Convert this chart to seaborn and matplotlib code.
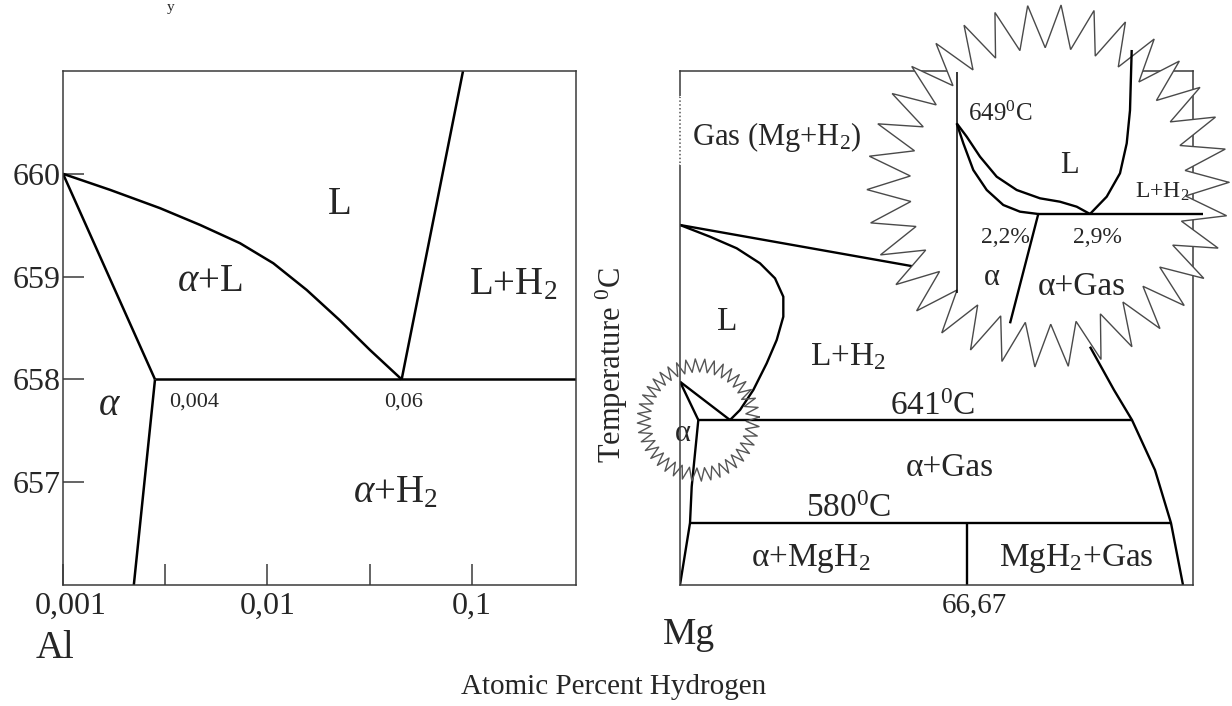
import numpy as np
import matplotlib
matplotlib.use("Agg")
import matplotlib.pyplot as plt
import matplotlib.transforms as mtransforms
import seaborn as sns

# ---------------- data: Al-H (left panel, log x in at.% H, T in degC) ----------------
al_liquidus_x = [0.001, 0.001698, 0.002979, 0.004676, 0.007336, 0.010676,
                 0.015548, 0.022491, 0.031712, 0.0453]
al_liquidus_y = [660.0, 659.844, 659.666, 659.503, 659.325, 659.130,
                 658.870, 658.578, 658.286, 658.0]
al_solidus_x = [0.001, 0.002818]
al_solidus_y = [660.0, 658.0]
al_solvus_x = [0.002818, 0.00222]
al_solvus_y = [658.0, 656.0]
al_eutectic_x = [0.002818, 0.3226]
al_eutectic_y = [658.0, 658.0]
al_gasline_x = [0.0453, 0.0904]
al_gasline_y = [658.0, 661.0]
al_yticks = [657, 658, 659, 660]
al_xticks = [0.001, 0.01, 0.1]
al_xticklabels = ["0,001", "0,01", "0,1"]
al_minor_xticks = [10 ** -2.5, 10 ** -1.5]

# ---------------- data: Mg-H (right panel, schematic units 0-100) ----------------
mg_gas_x = [0.0, 45.42]
mg_gas_y = [70.04, 62.0]
mg_liq_x = [0.0, 5.85, 11.05, 15.59, 18.52, 20.14, 20.14, 18.85, 16.90, 14.29, 11.70, 9.75]
mg_liq_y = [70.04, 67.76, 65.51, 62.59, 59.67, 56.09, 52.20, 47.67, 43.13, 37.94, 34.05, 32.10]
mg_eut1_x = [0.0, 9.75]
mg_eut1_y = [39.55, 32.10]
mg_eut2_x = [0.0, 3.57]
mg_eut2_y = [39.55, 32.10]
mg_solvus_x = [3.57, 2.28, 1.95, 0.0]
mg_solvus_y = [32.10, 19.12, 12.06, 0.0]
mg_641_x = [3.57, 88.11]
mg_641_y = [32.10, 32.10]
mg_right_x = [79.92, 84.60, 88.11, 92.59, 95.71, 98.05]
mg_right_y = [46.36, 37.94, 32.10, 22.37, 12.06, 0.0]
mg_580_x = [1.95, 95.71]
mg_580_y = [12.06, 12.06]
mg_hydride_x = [55.87, 55.87]
mg_hydride_y = [0.0, 12.06]

# inset (magnified Mg-rich corner)
in_axis_x = [53.94, 53.94]
in_axis_y = [99.8, 56.81]
in_sol_x = [53.94, 55.23, 57.17, 59.79, 63.02, 66.28, 69.84]
in_sol_y = [89.82, 85.93, 80.74, 76.85, 73.93, 72.63, 72.18]
in_liq_x = [53.94, 55.89, 58.48, 61.73, 65.63, 70.18, 74.07, 77.33, 79.92]
in_liq_y = [89.82, 87.22, 83.33, 79.44, 76.85, 75.23, 74.57, 73.60, 72.18]
in_eut_x = [69.84, 102.0]
in_eut_y = [72.18, 72.18]
in_right_x = [79.92, 83.18, 85.77, 87.08, 87.72, 88.05]
in_right_y = [72.18, 75.55, 80.10, 85.93, 92.35, 104.09]
in_solvus_x = [69.84, 64.33]
in_solvus_y = [72.18, 50.91]

# ---------------- labels ----------------
al_labels = ["L", r"$\alpha$+L", "L+H$_2$", r"$\alpha$", r"$\alpha$+H$_2$"]
al_small_labels = ["0,004", "0,06"]
mg_labels = ["L", "L+H$_2$", "641$^0$C", "α+Gas", "580$^0$C", "α+MgH$_2$", "MgH$_2$+Gas"]
inset_labels = ["L", "L+H$_2$", "α", "α+Gas"]
inset_small = ["2,2%", "2,9%"]

# ---------------- style ----------------
sns.set_theme(style="white")
plt.rcParams["font.family"] = ["Liberation Serif", "DejaVu Serif"]
plt.rcParams["mathtext.fontset"] = "custom"
plt.rcParams["mathtext.rm"] = "Liberation Serif"
plt.rcParams["mathtext.it"] = "Liberation Serif:italic"
plt.rcParams["mathtext.bf"] = "Liberation Serif:bold"

W, H = 1232, 706
fig = plt.figure(figsize=(W / 100, H / 100), dpi=100)
fig.patch.set_facecolor("white")

def px_axes(x0, y0, x1, y1):
    return fig.add_axes([x0 / W, 1 - y1 / H, (x1 - x0) / W, (y1 - y0) / H])

LW = 1.8
SPINE = "#3a3a3a"

def draw(ax, xs, ys, z=2, clip=True, lw=LW):
    sns.lineplot(x=xs, y=ys, sort=False, estimator=None, color="black",
                 linewidth=lw, ax=ax, legend=False)
    ln = ax.lines[-1]
    ln.set_zorder(z)
    ln.set_clip_on(clip)
    ln.set_solid_capstyle("butt")
    ln.set_solid_joinstyle("round")
    return ln

# ================= LEFT PANEL =================
axL = px_axes(63, 71, 576, 585)
axL.set_xscale("log")
axL.set_xlim(0.001, 0.3226)
axL.set_ylim(656.0, 661.0)
for s in axL.spines.values():
    s.set_color(SPINE)
    s.set_linewidth(1.1)
    s.set_visible(True)

draw(axL, al_liquidus_x, al_liquidus_y)
draw(axL, al_solidus_x, al_solidus_y)
draw(axL, al_solvus_x, al_solvus_y)
draw(axL, al_eutectic_x, al_eutectic_y)
draw(axL, al_gasline_x, al_gasline_y)

axL.set_yticks(al_yticks)
axL.set_yticklabels([str(v) for v in al_yticks])
axL.set_xticks(al_xticks)
axL.set_xticklabels(al_xticklabels)
axL.set_xticks(al_minor_xticks, minor=True)
axL.tick_params(axis="y", direction="in", length=15, width=1.1, color=SPINE,
                labelsize=23, pad=2, left=True)
axL.tick_params(axis="x", which="both", direction="in", length=15, width=1.1,
                color=SPINE, labelsize=23, pad=5, bottom=True)
axL.tick_params(axis="x", which="minor", labelbottom=False)
axL.set_xlabel("")
axL.set_ylabel("")
# first x tick label sits a little right of the corner
shift = mtransforms.ScaledTranslation(8 / 100, 0, fig.dpi_scale_trans)
lab0 = axL.get_xticklabels()[0]
lab0.set_transform(lab0.get_transform() + shift)

al_label_pos = [(0.02262, 659.70), (0.00524, 658.95), (0.158, 658.92),
                (0.00168, 657.75), (0.0420, 656.90)]
for t, (x, y) in zip(al_labels, al_label_pos):
    axL.text(x, y, t, fontsize=28, ha="center", va="center")
al_small_pos = [(0.00438, 657.78), (0.0461, 657.78)]
for t, (x, y) in zip(al_small_labels, al_small_pos):
    axL.text(x, y, t, fontsize=16, ha="center", va="center")

# ================= RIGHT PANEL =================
axR = px_axes(680, 71, 1193, 585)
axR.set_xlim(0, 100)
axR.set_ylim(0, 100)
axR.set_xticks([])
axR.set_yticks([])
for s in axR.spines.values():
    s.set_color(SPINE)
    s.set_linewidth(1.1)
    s.set_visible(True)
    s.set_zorder(2.5)

# dotted stretch on the left frame edge
axR.plot([0, 0], [82.1, 94.9], color="white", lw=2.2, zorder=2.6, clip_on=False)
axR.plot([0, 0], [82.1, 94.9], color="#555555", lw=1.1, ls=(0, (1, 1.5)), zorder=2.7,
         clip_on=False)

for xs, ys in [(mg_gas_x, mg_gas_y), (mg_liq_x, mg_liq_y), (mg_eut1_x, mg_eut1_y),
               (mg_eut2_x, mg_eut2_y), (mg_solvus_x, mg_solvus_y), (mg_641_x, mg_641_y),
               (mg_right_x, mg_right_y), (mg_580_x, mg_580_y), (mg_hydride_x, mg_hydride_y)]:
    draw(axR, xs, ys, z=2, lw=1.7)

def star(cx, cy, r_out, r_in, n, phase=0.0):
    k = np.arange(2 * n + 1)
    ang = phase + np.pi * k / n
    r = np.where(k % 2 == 0, r_out, r_in)
    return cx + r * np.cos(ang), cy + r * np.sin(ang)

# small magnifier star
sx, sy = star(3.57, 32.10, 11.9, 9.35, 40, phase=0.05)
axR.plot(sx, sy, color="#555555", lw=1.0, zorder=3, clip_on=False)

# big magnifier star (white filled, above the main drawing)
bx, by = star(71.73, 77.63, 35.3, 26.9, 34, phase=0.02)
axR.fill(bx, by, facecolor="white", edgecolor="#4a4a4a", lw=1.0, zorder=3, clip_on=False)

draw(axR, in_axis_x, in_axis_y, z=4, clip=False, lw=1.1)
for xs, ys in [(in_sol_x, in_sol_y), (in_liq_x, in_liq_y), (in_eut_x, in_eut_y),
               (in_right_x, in_right_y), (in_solvus_x, in_solvus_y)]:
    draw(axR, xs, ys, z=4, clip=False, lw=1.7)

axR.text(2.34, 87.16, "Gas (Mg+H$_2$)", fontsize=22, ha="left", va="center", zorder=3)
mg_label_pos = [(9.16, 51.2), (32.75, 44.4), (49.3, 34.6), (52.6, 22.76),
                (32.9, 14.8), (25.5, 5.2), (77.2, 5.2)]
for t, (x, y) in zip(mg_labels, mg_label_pos):
    axR.text(x, y, t, fontsize=24, ha="center", va="center", zorder=2)
axR.text(0.64, 29.5, "α", fontsize=22, ha="center", va="center", zorder=2)

# inset labels
axR.text(56.14, 91.6, "649$^0$C", fontsize=18, ha="left", va="center", zorder=5, clip_on=False)
inset_pos = [(75.83, 81.7), (93.96, 76.5), (60.82, 59.9), (78.36, 57.98)]
inset_sizes = [22, 17, 22, 24]
for t, (x, y), fs in zip(inset_labels, inset_pos, inset_sizes):
    axR.text(x, y, t, fontsize=fs, ha="center", va="center", zorder=5, clip_on=False)
inset_small_pos = [(63.35, 67.51), (81.29, 67.51)]
for t, (x, y) in zip(inset_small, inset_small_pos):
    axR.text(x, y, t, fontsize=17, ha="center", va="center", zorder=5, clip_on=False)

axR.text(57.3, -3.9, "66,67", fontsize=21, ha="center", va="center", clip_on=False)

# ================= figure texts =================
fig.text(55 / W, 1 - 649 / H, "Al", fontsize=28, ha="center", va="center")
fig.text(689 / W, 1 - 635 / H, "Mg", fontsize=27, ha="center", va="center")
fig.text(614 / W, 1 - 687 / H, "Atomic Percent Hydrogen", fontsize=21, ha="center", va="center")
fig.text(612 / W, 1 - 365 / H, "Temperature $^0$C", fontsize=22, rotation=90,
         ha="center", va="center")
fig.text(171 / W, 1 - 1 / H, "y", fontsize=11, ha="center", va="top")

fig.savefig("out.png", dpi=100, facecolor="white")
